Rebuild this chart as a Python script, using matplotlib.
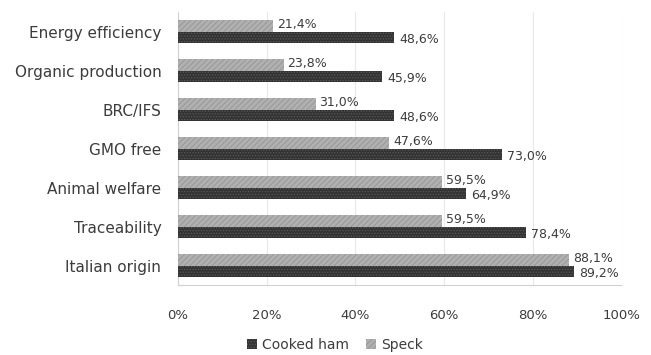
import matplotlib
matplotlib.use("Agg")
import matplotlib.pyplot as plt
import numpy as np

categories = ["Energy efficiency", "Organic production", "BRC/IFS", "GMO free",
              "Animal welfare", "Traceability", "Italian origin"]
cooked_ham = [48.6, 45.9, 48.6, 73.0, 64.9, 78.4, 89.2]
speck = [21.4, 23.8, 31.0, 47.6, 59.5, 59.5, 88.1]
xticks = [0, 20, 40, 60, 80, 100]
xtick_labels = ["0%", "20%", "40%", "60%", "80%", "100%"]

plt.rcParams['font.family'] = ['DejaVu Sans']
plt.rcParams['hatch.linewidth'] = 0.6

fig = plt.figure(figsize=(6.51, 3.55), dpi=100)
ax = fig.add_axes([0.2734, 0.197, 0.955 - 0.2734, 0.966 - 0.197])

text_col = "#3c3c3c"
ham_col = "#333333"
speck_col = "#b0b0b0"

y = np.arange(len(categories))
h = 0.29

ax.barh(y - h / 2, speck, height=h, color=speck_col, hatch="//////",
        edgecolor="#959595", linewidth=0, label="Speck", zorder=3)
ax.barh(y + h / 2, cooked_ham, height=h, color=ham_col, hatch="......",
        edgecolor="#595959", linewidth=0, label="Cooked ham", zorder=3)

def fmt(v):
    return f"{v:.1f}%".replace(".", ",")

for yi, v in zip(y, speck):
    ax.text(v + 0.9, yi - h / 2 - 0.04, fmt(v), va="center", ha="left",
            fontsize=9, color=text_col, zorder=4)
for yi, v in zip(y, cooked_ham):
    ax.text(v + 1.2, yi + h / 2 + 0.07, fmt(v), va="center", ha="left",
            fontsize=9, color=text_col, zorder=4)

ax.set_xlim(0, 100)
ax.set_ylim(len(categories) - 0.5, -0.5)
ax.set_xticks(xticks)
ax.set_xticklabels(xtick_labels, fontsize=9.5, color=text_col)
ax.set_yticks(y)
ax.set_yticklabels(categories, fontsize=11, color=text_col)
ax.tick_params(axis="both", length=0)
ax.tick_params(axis="x", pad=17)
ax.tick_params(axis="y", pad=12)

ax.grid(axis="x", color="#e8e8e8", linewidth=0.8, zorder=0)
for s in ["top", "right"]:
    ax.spines[s].set_visible(False)
for s in ["left", "bottom"]:
    ax.spines[s].set_color("#d0d0d0")
    ax.spines[s].set_linestyle((0, (1, 1)))
    ax.spines[s].set_linewidth(0.8)

handles, labels = ax.get_legend_handles_labels()
leg = fig.legend(handles[::-1], labels[::-1], loc="center",
                 bbox_to_anchor=(335 / 651, 1 - 345 / 355), ncol=2, frameon=False,
                 fontsize=10, handlelength=0.7, handleheight=0.7,
                 handletextpad=0.4, columnspacing=1.2)
for t in leg.get_texts():
    t.set_color(text_col)

fig.savefig("out.png", dpi=100)
